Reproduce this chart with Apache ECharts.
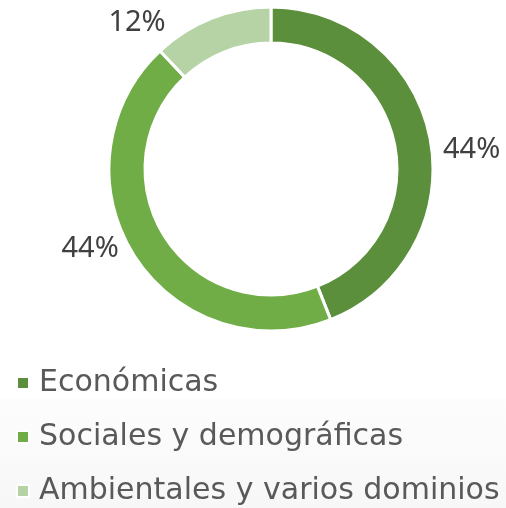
<!DOCTYPE html>
<html>
<head>
<meta charset="utf-8">
<script src="https://cdn.jsdelivr.net/npm/echarts@6/dist/echarts.min.js"></script>
<style>
html,body{margin:0;padding:0;background:#fff;}
#main{width:506px;height:508px;}
</style>
</head>
<body>
<div id="main"></div>
<script>
// categorias y porcentajes
var categorias = ['Económicas', 'Sociales y demográficas', 'Ambientales y varios dominios'];
var valores = [44, 44, 12];
var colores = ['#5b8f3b', '#70ad47', '#b5d3a5'];

var datos = [];
for (var i = 0; i < categorias.length; i++) {
    datos.push({name: categorias[i], value: valores[i], itemStyle: {color: colores[i]}});
}
// desplazamiento de etiquetas (como en el original)
var desplaza = [[-2, 13], [-2, -12], [-37, 14]];

var myChart = echarts.init(document.getElementById('main'));
var option = {
    animation: false,
    graphic: [{
        type: 'rect',
        z: -10,
        shape: {x: 0, y: 398, width: 506, height: 110},
        style: {
            fill: new echarts.graphic.LinearGradient(0, 0, 0, 1, [
                {offset: 0, color: '#fdfdfd'},
                {offset: 1, color: '#f7f7f7'}
            ])
        }
    }],
    legend: {
        orient: 'vertical',
        left: 16,
        top: 367,
        padding: 0,
        icon: 'rect',
        itemWidth: 12,
        itemHeight: 12,
        itemGap: 22,
        data: categorias,
        textStyle: {
            fontFamily: 'DejaVu Sans',
            fontSize: 30,
            lineHeight: 32,
            color: '#595959',
            padding: [0, 0, 0, 5]
        }
    },
    series: [{
        type: 'pie',
        center: [271, 169],
        radius: [126, 162],
        startAngle: 90,
        clockwise: true,
        avoidLabelOverlap: false,
        itemStyle: {borderColor: '#fff', borderWidth: 3},
        label: {
            show: true,
            position: 'outside',
            formatter: '{c}%',
            fontFamily: 'Noto Sans',
            fontSize: 29,
            color: '#404040'
        },
        labelLine: {show: false, length: 10, length2: 0},
        labelLayout: function (p) {
            return {dx: desplaza[p.dataIndex][0], dy: desplaza[p.dataIndex][1]};
        },
        data: datos
    }]
};
myChart.setOption(option);
</script>
</body>
</html>
